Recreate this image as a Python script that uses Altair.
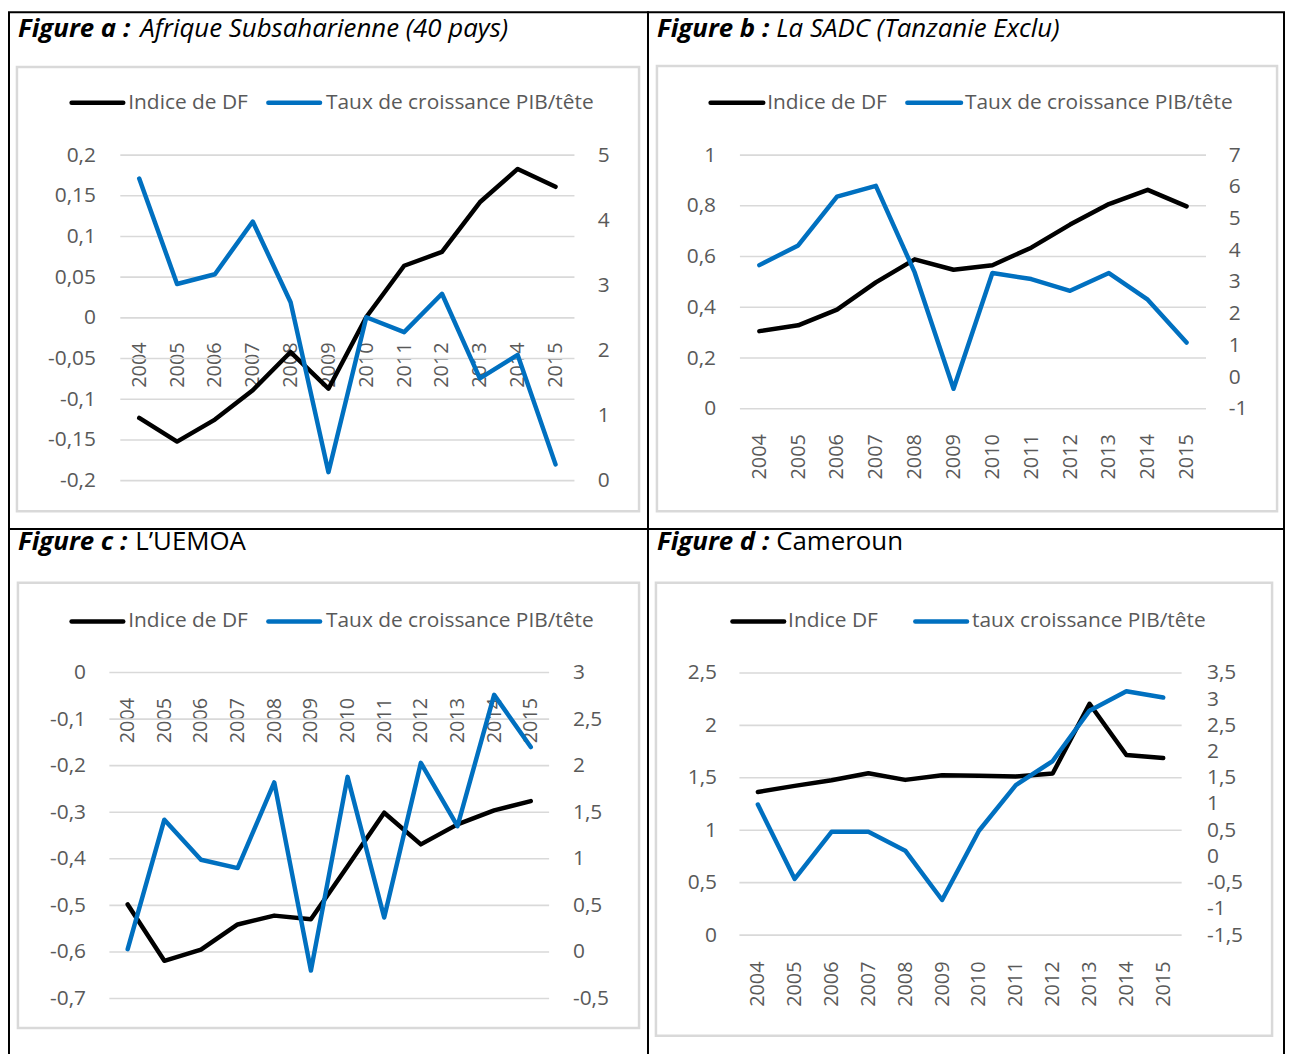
import altair as alt
import pandas as pd

# ---------------- data ----------------
years = [str(y) for y in range(2004, 2016)]

# Figure a : Afrique Subsaharienne
df_a = [-0.123, -0.152, -0.125, -0.089, -0.042, -0.087, 0.001, 0.064, 0.081, 0.142, 0.183, 0.161]
gr_a = [4.64, 3.02, 3.17, 3.98, 2.74, 0.13, 2.51, 2.28, 2.87, 1.57, 1.93, 0.25]

# Figure b : SADC
df_b = [0.306, 0.329, 0.391, 0.498, 0.589, 0.548, 0.566, 0.635, 0.726, 0.807, 0.863, 0.798]
gr_b = [3.53, 4.15, 5.69, 6.03, 3.30, -0.37, 3.28, 3.09, 2.72, 3.28, 2.44, 1.09]

# Figure c : UEMOA
df_c = [-0.498, -0.619, -0.595, -0.541, -0.522, -0.530, -0.416, -0.301, -0.369, -0.326, -0.296, -0.276]
gr_c = [0.03, 1.42, 0.99, 0.90, 1.82, -0.20, 1.88, 0.37, 2.03, 1.35, 2.76, 2.20]

# Figure d : Cameroun
df_d = [1.365, 1.423, 1.477, 1.544, 1.480, 1.525, 1.519, 1.512, 1.541, 2.206, 1.717, 1.688]
gr_d = [0.99, -0.43, 0.47, 0.47, 0.11, -0.83, 0.49, 1.36, 1.82, 2.78, 3.15, 3.03]

ticks_a_left = [-0.2, -0.15, -0.1, -0.05, 0, 0.05, 0.1, 0.15, 0.2]
ticks_a_right = [0, 1, 2, 3, 4, 5]
ticks_b_left = [0, 0.2, 0.4, 0.6, 0.8, 1]
ticks_b_right = [-1, 0, 1, 2, 3, 4, 5, 6, 7]
ticks_c_left = [-0.7, -0.6, -0.5, -0.4, -0.3, -0.2, -0.1, 0]
ticks_c_right = [-0.5, 0, 0.5, 1, 1.5, 2, 2.5, 3]
ticks_d_left = [0, 0.5, 1, 1.5, 2, 2.5]
ticks_d_right = [-1.5, -1, -0.5, 0, 0.5, 1, 1.5, 2, 2.5, 3, 3.5]

titles_bold = ["Figure a :", "Figure b :", "Figure c :", "Figure d :"]
titles_rest = ["Afrique Subsaharienne (40 pays)", "La SADC (Tanzanie Exclu)", "L\u2019UEMOA", "Cameroun"]
legend_df = ["Indice de DF", "Indice de DF", "Indice de DF", "Indice DF"]
legend_gr = ["Taux de croissance PIB/t\u00eate", "Taux de croissance PIB/t\u00eate",
             "Taux de croissance PIB/t\u00eate", "taux croissance PIB/t\u00eate"]

# ---------------- style / layout ----------------
FONT = "Open Sans"
TXT = "#595959"
GRID = "#d9d9d9"
BLUE = "#0070c0"
LABEL_EXPR = "replace(replace(format(datum.value, '~g'), '.', ','), '\u2212', '-')"

layout = [
    dict(W=643, H=520, xr=[112, 569], yr=[471.3, 143.7], ldom=[-0.2, 0.2], rdom=[0, 5],
         loff=-87, roff=-51, xoff=-212.3, xpad=24, frame=[8, 55, 634, 502],
         tb=25, t1x=9, t2x=132, t2style="italic", ly=91, r1=[63, 115], lt1=120, r2=[261, 313], lt2=319),
    dict(W=640, H=520, xr=[92.5, 561.5], yr=[399, 143.7], ldom=[0, 1], rdom=[-1, 7],
         loff=-68, roff=-56, xoff=-121, xpad=25, frame=[9, 54, 633, 502],
         tb=25, t1x=9, t2x=129, t2style="italic", ly=91, r1=[63, 116], lt1=120, r2=[261, 315], lt2=319),
    dict(W=643, H=532, xr=[101, 543.5], yr=[472.4, 144.4], ldom=[-0.7, 0], rdom=[-0.5, 3],
         loff=-77, roff=-76, xoff=-387.6, xpad=25, frame=[9, 54, 634, 502],
         tb=21, t1x=9, t2x=127, t2style="normal", ly=93, r1=[63, 115], lt1=120, r2=[261, 313], lt2=319),
    dict(W=640, H=532, xr=[92, 537], yr=[408.6, 144.8], ldom=[0, 2.5], rdom=[-1.5, 3.5],
         loff=-69, roff=-78, xoff=-123.4, xpad=26, frame=[8, 54, 628, 510],
         tb=21, t1x=9, t2x=129, t2style="normal", ly=93, r1=[85, 137], lt1=141, r2=[269, 321], lt2=326),
]

series = [(df_a, gr_a, ticks_a_left, ticks_a_right),
          (df_b, gr_b, ticks_b_left, ticks_b_right),
          (df_c, gr_c, ticks_c_left, ticks_c_right),
          (df_d, gr_d, ticks_d_left, ticks_d_right)]


def make_panel(i):
    p = layout[i]
    dfv, grv, lt, rt = series[i]
    data = pd.DataFrame({"year": years, "df": dfv, "gr": grv})
    one = alt.Data(values=[{"k": 0}])

    x_enc = alt.X(
        "year:O",
        scale=alt.Scale(type="point", domain=years, range=p["xr"], padding=0.5),
        axis=alt.Axis(orient="bottom", labelAngle=270, offset=p["xoff"], labelPadding=p["xpad"],
                      ticks=False, tickSize=0, domain=False, grid=False, labelOverlap=False,
                      labelFont=FONT, labelFontSize=20, labelColor=TXT, title=None),
    )
    left_scale = alt.Scale(domain=p["ldom"], range=p["yr"], nice=False, zero=False)
    left_axis = alt.Axis(orient="left", values=lt, offset=p["loff"], labelPadding=0, ticks=False,
                         tickSize=0, domain=False, grid=False, labelExpr=LABEL_EXPR,
                         labelFont=FONT, labelFontSize=21, labelColor=TXT, title=None)
    right_scale = alt.Scale(domain=p["rdom"], range=p["yr"], nice=False, zero=False)
    right_axis = alt.Axis(orient="right", values=rt, offset=p["roff"], labelPadding=0, ticks=False,
                          tickSize=0, domain=False, grid=False, labelExpr=LABEL_EXPR,
                          labelFont=FONT, labelFontSize=21, labelColor=TXT, title=None)

    grid = alt.Chart(pd.DataFrame({"v": lt})).mark_rule(color=GRID, strokeWidth=1.6).encode(
        y=alt.Y("v:Q", scale=left_scale, axis=left_axis),
        x=alt.value(p["xr"][0]), x2=alt.value(p["xr"][1]),
    )
    black = alt.Chart(data).mark_line(color="#000000", strokeWidth=4.5, strokeCap="round",
                                      strokeJoin="round").encode(
        x=x_enc, y=alt.Y("df:Q", scale=left_scale, axis=left_axis))
    blue = alt.Chart(data).mark_line(color=BLUE, strokeWidth=4.5, strokeCap="round",
                                     strokeJoin="round").encode(
        x=x_enc, y=alt.Y("gr:Q", scale=right_scale, axis=right_axis))

    fx0, fy0, fx1, fy1 = p["frame"]
    frame = alt.Chart(one).mark_rect(filled=False, stroke=GRID, strokeWidth=2.5).encode(
        x=alt.value(fx0), x2=alt.value(fx1), y=alt.value(fy0), y2=alt.value(fy1))

    t1 = alt.Chart(one).mark_text(text=titles_bold[i], font=FONT, fontSize=26, fontStyle="italic",
                                  fontWeight="bold", align="left", baseline="alphabetic",
                                  color="#000000").encode(x=alt.value(p["t1x"]), y=alt.value(p["tb"]))
    t2 = alt.Chart(one).mark_text(text=titles_rest[i], font=FONT, fontSize=26, fontStyle=p["t2style"],
                                  align="left", baseline="alphabetic",
                                  color="#000000").encode(x=alt.value(p["t2x"]), y=alt.value(p["tb"]))

    lr1 = alt.Chart(one).mark_rule(color="#000000", strokeWidth=4.5, strokeCap="round").encode(
        x=alt.value(p["r1"][0]), x2=alt.value(p["r1"][1]), y=alt.value(p["ly"]))
    lr2 = alt.Chart(one).mark_rule(color=BLUE, strokeWidth=4.5, strokeCap="round").encode(
        x=alt.value(p["r2"][0]), x2=alt.value(p["r2"][1]), y=alt.value(p["ly"]))
    ltx1 = alt.Chart(one).mark_text(text=legend_df[i], font=FONT, fontSize=21, color=TXT,
                                    align="left", baseline="middle").encode(
        x=alt.value(p["lt1"]), y=alt.value(p["ly"]))
    ltx2 = alt.Chart(one).mark_text(text=legend_gr[i], font=FONT, fontSize=21, color=TXT,
                                    align="left", baseline="middle").encode(
        x=alt.value(p["lt2"]), y=alt.value(p["ly"]))

    inner = alt.layer(grid, black)
    panel = alt.layer(frame, t1, t2, lr1, lr2, ltx1, ltx2, inner, blue).resolve_scale(
        y="independent").properties(width=p["W"], height=p["H"])
    return panel


chart = alt.concat(
    make_panel(0), make_panel(1), make_panel(2), make_panel(3),
    columns=2, spacing=0, bounds="flush", align="each",
).properties(padding=0, background="white").configure_view(stroke="#000000", strokeWidth=2)

chart.save("out.html", embed_options={"renderer": "svg", "actions": False})
